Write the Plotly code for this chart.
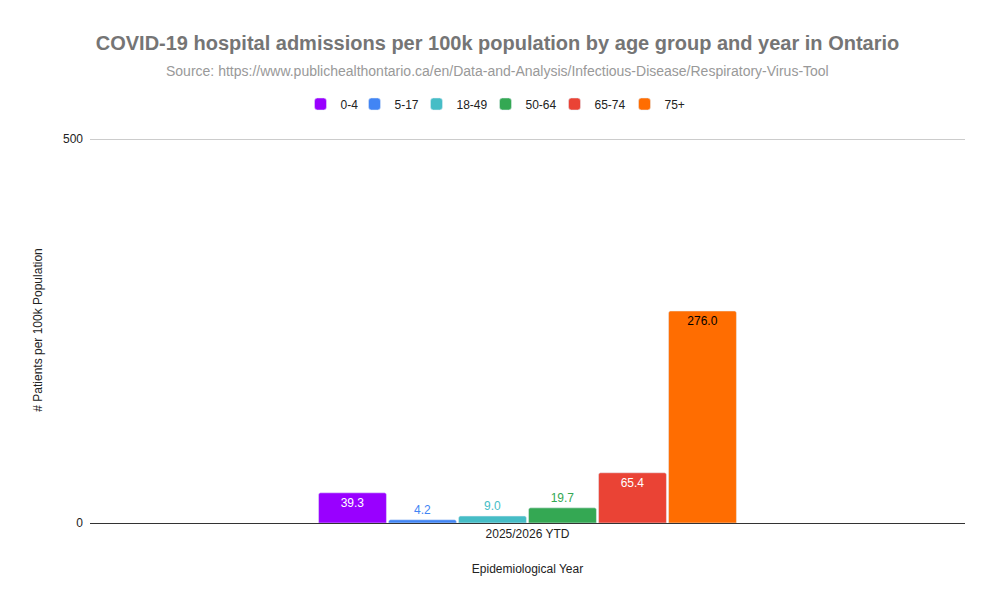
import plotly.graph_objects as go

# data
years = ["2025/2026 YTD"]
age_groups = ["0-4", "5-17", "18-49", "50-64", "65-74", "75+"]
rates = [39.3, 4.2, 9.0, 19.7, 65.4, 276.0]
colors = ["#9900ff", "#4285f4", "#46bdc6", "#34a853", "#ea4335", "#ff6d01"]
label_inside = [True, False, False, False, True, True]
inside_font = ["#ffffff", None, None, None, "#ffffff", "#000000"]
legend_widths = [9, 17, 24, 24, 25, 25]

fig = go.Figure()
for name, val, col, inside, fcol, lw in zip(age_groups, rates, colors, label_inside,
                                           inside_font, legend_widths):
    fig.add_trace(go.Bar(
        x=years,
        y=[val],
        name=name,
        marker=dict(color=col, cornerradius=2),
        text=["{:.1f}".format(val)],
        textposition="inside" if inside else "outside",
        insidetextanchor="end",
        textangle=0,
        textfont=dict(size=12, color=fcol if inside else col),
        cliponaxis=False,
        legendwidth=lw,
    ))

W, H = 979, 590
T, B = 129, 75
plot_h = H - T - B
# pixel offsets are measured from the x axis line (y=515 in figure pixels)
# horizontal centre of the whole figure, in paper units
mid_x = (W / 2 - 82) / (W - 82 - 22)

fig.update_layout(
    width=W,
    height=H,
    margin=dict(l=82, r=22, t=T, b=B, autoexpand=False),
    paper_bgcolor="white",
    plot_bgcolor="white",
    font=dict(family="Liberation Sans, Arial, sans-serif", size=12, color="#222222"),
    barmode="group",
    bargap=0.52,
    bargroupgap=0.03,
    title=dict(
        text="<b>COVID-19 hospital admissions per 100k population by age group and year in Ontario</b>",
        x=0.5, xref="container", xanchor="center",
        y=1 - 35 / H, yref="container", yanchor="middle",
        font=dict(size=20, color="#757575"),
    ),
    legend=dict(
        orientation="h",
        x=mid_x, xanchor="center",
        y=(515 - 96) / plot_h, yanchor="middle",
        font=dict(size=12, color="#222222"),
    ),
    uniformtext=dict(minsize=12, mode="show"),
)

fig.add_annotation(
    text="Source: https://www.publichealthontario.ca/en/Data-and-Analysis/Infectious-Disease/Respiratory-Virus-Tool",
    xref="paper", yref="paper",
    x=mid_x, y=(515 - 63) / plot_h,
    xanchor="center", yanchor="middle",
    showarrow=False,
    font=dict(size=14, color="#999999"),
)

fig.update_xaxes(
    title=dict(text="Epidemiological Year", font=dict(size=12, color="#222222"), standoff=24),
    showgrid=False,
    showline=True,
    linecolor="#333333",
    linewidth=1,
    ticks="",
)
fig.update_yaxes(
    title=dict(text="# Patients per 100k Population", font=dict(size=12, color="#222222"), standoff=17),
    range=[0, 500 * plot_h / 384],
    tickvals=[0, 500],
    showgrid=True,
    gridcolor="#cccccc",
    zeroline=False,
    ticks="",
    ticklabelstandoff=6,
)

fig.write_html("out.html")
